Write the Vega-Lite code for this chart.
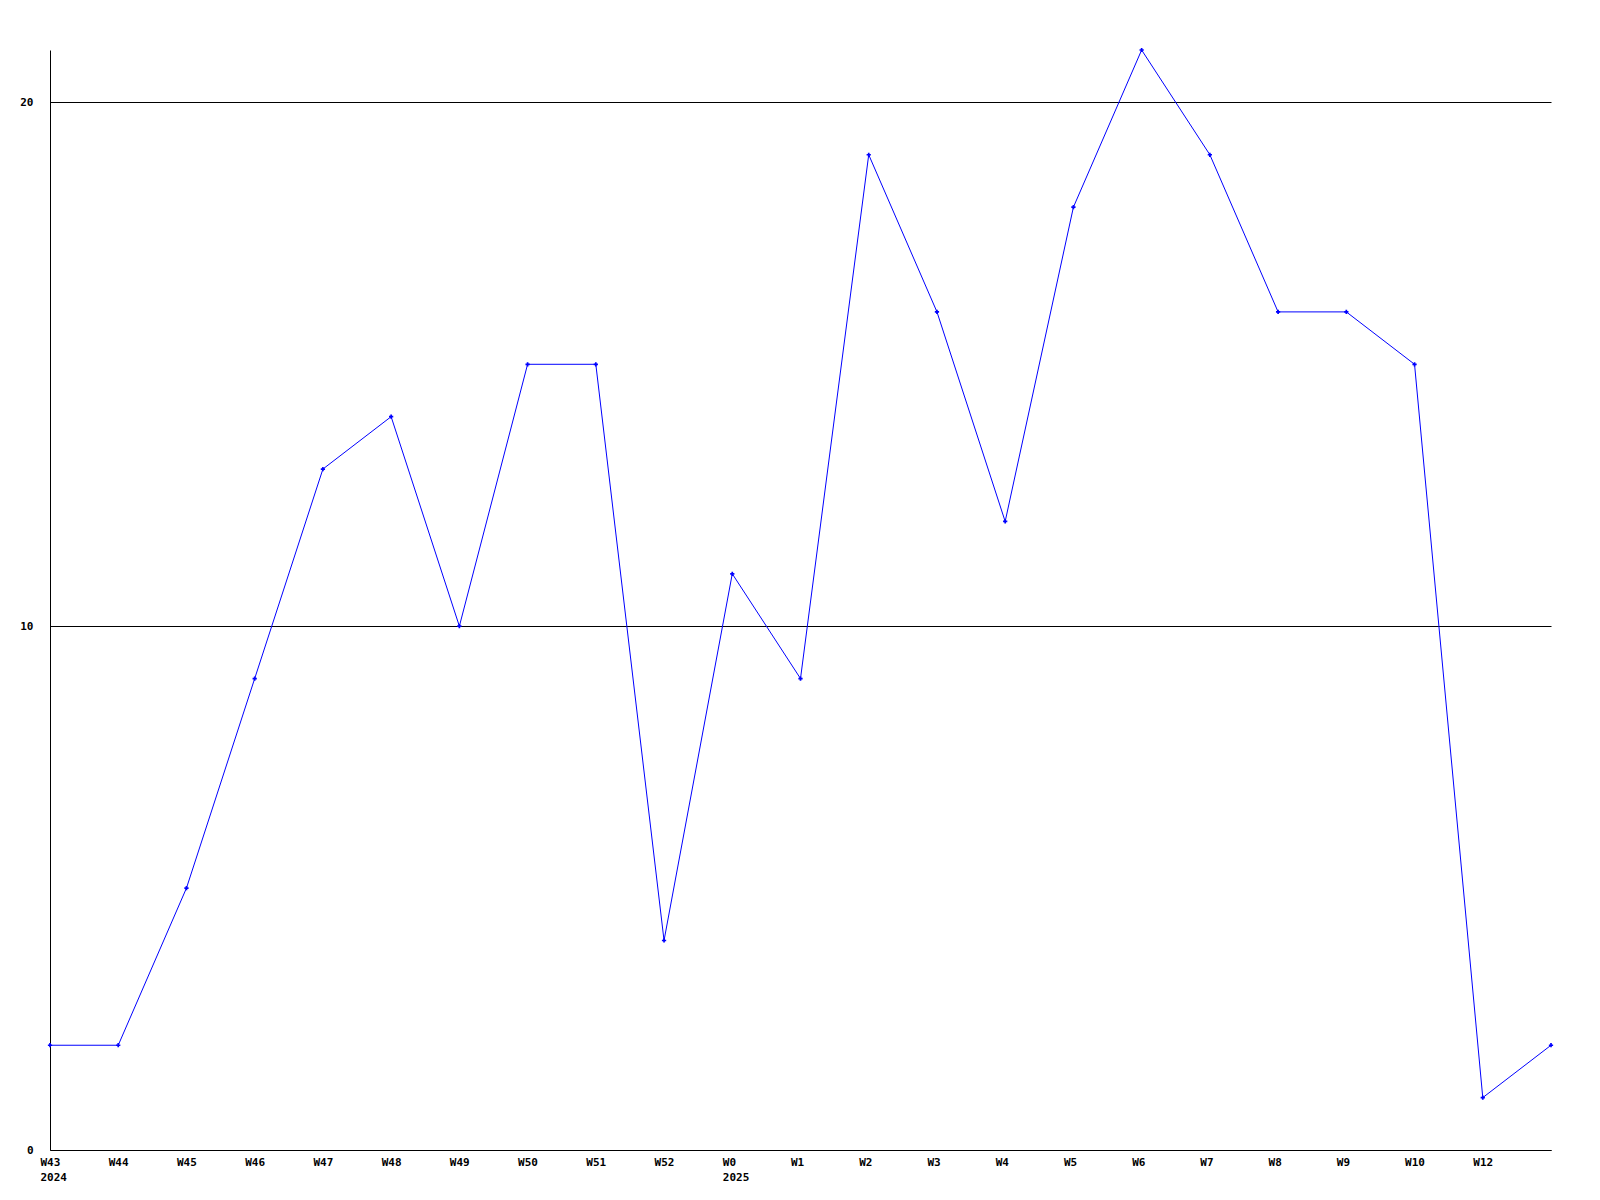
{
  "$schema": "https://vega.github.io/schema/vega-lite/v6.json",
  "autosize": "none",
  "width": 1501,
  "height": 1100,
  "padding": {"left": 50, "top": 50, "right": 49, "bottom": 50},
  "background": "white",
  "config": {"view": {"stroke": null}},
  "data": {"values": [
    {"i": 0, "week": "W43", "v": 2},
    {"i": 1, "week": "W44", "v": 2},
    {"i": 2, "week": "W45", "v": 5},
    {"i": 3, "week": "W46", "v": 9},
    {"i": 4, "week": "W47", "v": 13},
    {"i": 5, "week": "W48", "v": 14},
    {"i": 6, "week": "W49", "v": 10},
    {"i": 7, "week": "W50", "v": 15},
    {"i": 8, "week": "W51", "v": 15},
    {"i": 9, "week": "W52", "v": 4},
    {"i": 10, "week": "W0", "v": 11},
    {"i": 11, "week": "W1", "v": 9},
    {"i": 12, "week": "W2", "v": 19},
    {"i": 13, "week": "W3", "v": 16},
    {"i": 14, "week": "W4", "v": 12},
    {"i": 15, "week": "W5", "v": 18},
    {"i": 16, "week": "W6", "v": 21},
    {"i": 17, "week": "W7", "v": 19},
    {"i": 18, "week": "W8", "v": 16},
    {"i": 19, "week": "W9", "v": 16},
    {"i": 20, "week": "W10", "v": 15},
    {"i": 21, "week": "W12", "v": 1},
    {"i": 22, "week": "", "v": 2}
  ]},
  "encoding": {
    "x": {
      "field": "i", "type": "quantitative",
      "scale": {"domain": [0, 22], "nice": false, "zero": false},
      "axis": {
        "title": null,
        "values": [0,1,2,3,4,5,6,7,8,9,10,11,12,13,14,15,16,17,18,19,20,21],
        "labelExpr": "datum.value == 0 ? ['W43','2024'] : datum.value == 10 ? ['W0','2025'] : ['W43','W44','W45','W46','W47','W48','W49','W50','W51','W52','W0','W1','W2','W3','W4','W5','W6','W7','W8','W9','W10','W12'][datum.value]",
        "grid": false,
        "ticks": false,
        "domainColor": "black",
        "domainWidth": 1,
        "labelFont": "DejaVu Sans Mono",
        "labelFontWeight": "bold",
        "labelFontSize": 11,
        "labelColor": "black",
        "labelPadding": 6,
        "labelLineHeight": 15,
        "labelAlign": "left",
        "labelOffset": -10,
        "labelBaseline": "top",
        "labelOverlap": false,
        "labelFlush": false
      }
    },
    "y": {
      "field": "v", "type": "quantitative",
      "scale": {"domain": [0, 21], "nice": false},
      "axis": {
        "title": null,
        "values": [0, 10, 20],
        "grid": true,
        "gridColor": "black",
        "gridOpacity": 1,
        "gridWidth": 1,
        "ticks": false,
        "domainColor": "black",
        "labelFont": "DejaVu Sans Mono",
        "labelFontWeight": "bold",
        "labelFontSize": 11,
        "labelColor": "black",
        "labelPadding": 17,
        "labelFlush": false
      }
    }
  },
  "layer": [
    {"mark": {"type": "line", "color": "#0000ff", "strokeWidth": 1}},
    {"mark": {"type": "point", "shape": "cross", "filled": true, "color": "#0000ff", "size": 18, "opacity": 1}}
  ]
}
